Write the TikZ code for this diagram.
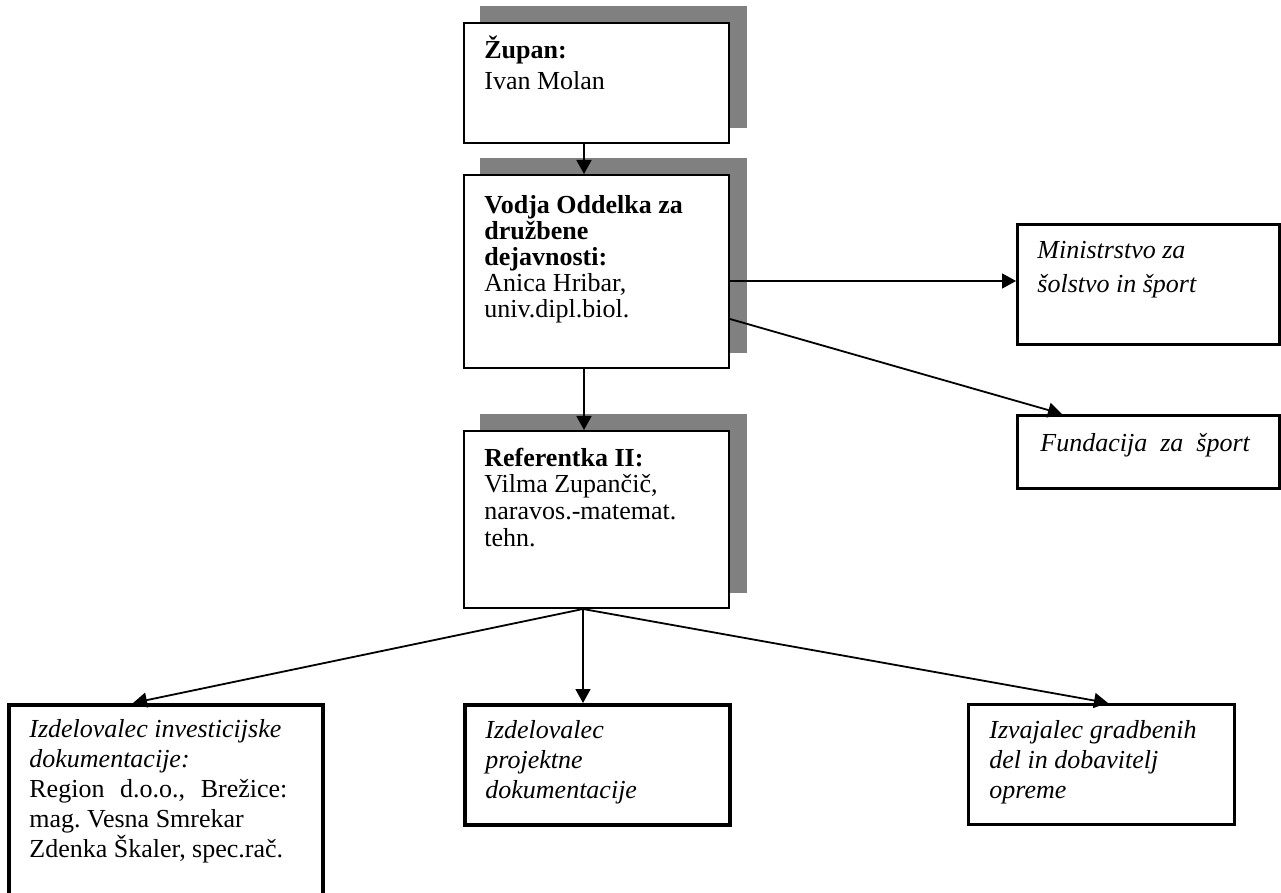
\documentclass[tikz,border=0pt]{standalone}
\usepackage{fontspec}
\setmainfont{Liberation Serif}
\usetikzlibrary{arrows.meta,backgrounds}
\definecolor{shadowgray}{HTML}{808080}
\frenchspacing
\begin{document}
\begin{tikzpicture}[x=0.5pt,y=-0.5pt,
  box/.style={draw=black, fill=white, line width=1pt, inner sep=0pt, anchor=north west},
  midbox/.style={box, line width=1.3pt},
  thickbox/.style={box, line width=2pt},
  txt/.style={anchor=north west, inner sep=0pt, align=left, font={\fontsize{13}{13}\selectfont\lineskiplimit=-100pt}},
  txtwide/.style={txt, font={\fontsize{13}{15}\selectfont\lineskiplimit=-100pt}},
  arr/.style={line width=0.9pt, -{Triangle[length=7pt,width=7.5pt]}},
  shadowbox/.style={fill=shadowgray}]
\useasboundingbox (0,0) rectangle (1281,893);
\clip (0,0) rectangle (1281,893);
\newcommand\fs{\rule{0pt}{12pt}}
% boxes
\node[box, minimum width=132.5pt, minimum height=60pt] (zupan) at (463,22) {};
\node[box, minimum width=132.5pt, minimum height=96.5pt] (vodja) at (463,174) {};
\node[box, minimum width=132.5pt, minimum height=88.5pt] (ref) at (463,430) {};
\node[midbox, minimum width=131pt, minimum height=60pt] (min) at (1016,223) {};
\node[midbox, minimum width=131pt, minimum height=36.5pt] (fund) at (1016,414) {};
\node[thickbox, minimum width=157pt, minimum height=125pt] (inv) at (7,703) {};
\node[thickbox, minimum width=132.5pt, minimum height=60pt] (proj) at (463,703) {};
\node[midbox, minimum width=133pt, minimum height=60pt] (izv) at (967,703) {};
% shadows
\begin{scope}[on background layer]
  \foreach \b in {zupan,vodja,ref}{
    \fill[shadowbox] ([shift={(17,-16)}]\b.south west) rectangle ([shift={(17,-16)}]\b.north east);
  }
\end{scope}
% texts
\node[txt] (zupanT) at ([shift={(21,12)}]zupan.north west) {\fs\textbf{Župan:}\\[2.5pt]Ivan Molan};
\node[txt] (vodjaT) at ([shift={(21,15)}]vodja.north west) {\fs\textbf{Vodja Oddelka za}\\\textbf{družbene}\\\textbf{dejavnosti:}\\Anica Hribar,\\univ.dipl.biol.};
\node[txt, font={\fontsize{13}{13.3}\selectfont\lineskiplimit=-100pt}] (refT) at ([shift={(21,12)}]ref.north west) {\fs\textbf{Referentka II:}\\Vilma Zupančič,\\naravos.-matemat.\\tehn.};
\node[txt, font={\fontsize{13}{17}\selectfont\lineskiplimit=-100pt}] (minT) at ([shift={(21,11)}]min.north west) {\fs\textit{Ministrstvo za}\\\textit{šolstvo in šport}};
\node[txt] (fundT) at ([shift={(24,13)}]fund.north west) {\fs\textit{Fundacija~~za~~šport}};
\node[txtwide] (invT) at ([shift={(22,10)}]inv.north west) {\fs\textit{Izdelovalec investicijske}\\\textit{dokumentacije:}\\\makebox[129pt][s]{Region d.o.o., Brežice:}\\mag. Vesna Smrekar\\Zdenka Škaler, spec.rač.};
\node[txtwide] (projT) at ([shift={(22,11)}]proj.north west) {\fs\textit{Izdelovalec}\\\textit{projektne}\\\textit{dokumentacije}};
\node[txtwide] (izvT) at ([shift={(22,11)}]izv.north west) {\fs\textit{Izvajalec gradbenih}\\\textit{del in dobavitelj}\\\textit{opreme}};
% connectors
\draw[arr] ([shift={(121,0)}]zupan.south west) -- ([shift={(121,0)}]vodja.north west);
\draw[arr] ([shift={(121,0)}]vodja.south west) -- ([shift={(121,0)}]ref.north west);
\draw[arr] ([shift={(0,107)}]vodja.north east) -- ([shift={(0,58)}]min.north west);
\draw[arr] ([shift={(0,145)}]vodja.north east) -- ([shift={(46,0)}]fund.north west);
\draw[arr] ([shift={(120,0)}]ref.south west) -- ([shift={(126,0)}]inv.north west);
\draw[arr] ([shift={(120,0)}]ref.south west) -- ([shift={(120,0)}]proj.north west);
\draw[arr] ([shift={(120,0)}]ref.south west) -- ([shift={(141,0)}]izv.north west);
\end{tikzpicture}
\end{document}
